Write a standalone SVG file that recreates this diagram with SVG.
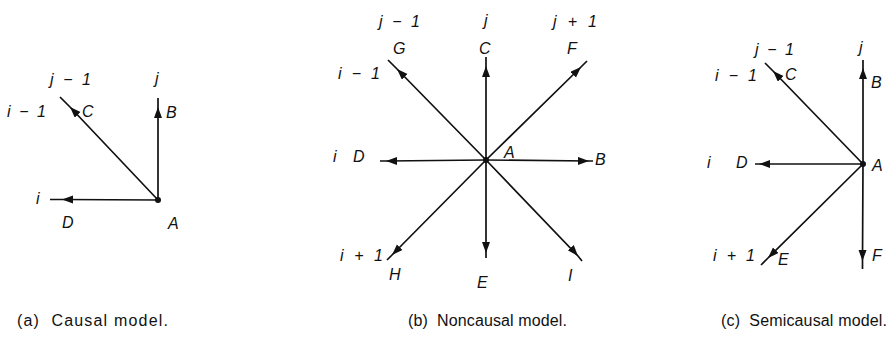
<svg xmlns="http://www.w3.org/2000/svg" width="890" height="338" viewBox="0 0 890 338">
<style>
.ln{fill:none;stroke:#111;stroke-width:1.7;marker-mid:url(#ah)}
.lb{font-family:"Liberation Sans",Arial,sans-serif;font-style:italic;font-size:16px;fill:#111}
.cap{font-family:"Liberation Sans",Arial,sans-serif;font-size:16px;fill:#111}
</style>
<defs>
<marker id="ah" markerUnits="userSpaceOnUse" markerWidth="12" markerHeight="9" refX="11" refY="4" orient="auto">
<path d="M0,0 L11,4 L0,8 Z" fill="#111"/>
</marker>
</defs>
<rect width="890" height="338" fill="#fff"/>

<g id="connectors">
<!-- (a) -->
<path class="ln" d="M158,200 L62,199.5 L50,199.5" stroke-width="2.2"/>
<path class="ln" d="M158,200 L70,107 L60,97"/>
<path class="ln" d="M158,200 L158,107 L158,98"/>
<!-- (b) -->
<path class="ln" d="M486,160 L397,69 L388,60"/>
<path class="ln" d="M486,160 L486,66 L486,57"/>
<path class="ln" d="M486,160 L581,67 L587,61"/>
<path class="ln" d="M486,160 L386,161 L380,161" stroke-width="2.2"/>
<path class="ln" d="M486,160 L589,161 L593,161" stroke-width="2.2"/>
<path class="ln" d="M486,160 L392,255 L387,260"/>
<path class="ln" d="M486,160 L486,253 L486,258"/>
<path class="ln" d="M486,160 L578,256 L582,261"/>
<!-- (c) -->
<path class="ln" d="M863,164 L863,68 L863,60"/>
<path class="ln" d="M863,164 L773,71 L765,63"/>
<path class="ln" d="M863,164 L759,164 L755,164" stroke-width="2.2"/>
<path class="ln" d="M863,164 L768,258 L761,265"/>
<path class="ln" d="M863,164 L862.5,261 L862.5,269"/>
</g>

<g id="nodeA_a"><circle cx="158" cy="200" r="3" fill="#111"/><text class="lb" x="168" y="229">A</text></g>
<g id="nodeB_a"><text class="lb" x="166" y="118">B</text><text class="lb" x="155" y="84">j</text></g>
<g id="nodeC_a"><text class="lb" x="82" y="117">C</text><text class="lb" x="50" y="85" textLength="41" lengthAdjust="spacing">j − 1</text><text class="lb" x="7" y="117" textLength="39" lengthAdjust="spacing">i − 1</text></g>
<g id="nodeD_a"><text class="lb" x="62" y="228">D</text><text class="lb" x="36" y="204">i</text></g>

<g id="nodeA_b"><circle cx="486" cy="160" r="3" fill="#111"/><text class="lb" x="504" y="158">A</text></g>
<g id="nodeB_b"><text class="lb" x="595" y="165">B</text></g>
<g id="nodeC_b"><text class="lb" x="479" y="54">C</text><text class="lb" x="484" y="26">j</text></g>
<g id="nodeD_b"><text class="lb" x="353" y="162">D</text><text class="lb" x="333" y="162">i</text></g>
<g id="nodeE_b"><text class="lb" x="477" y="288">E</text></g>
<g id="nodeF_b"><text class="lb" x="567" y="54">F</text><text class="lb" x="553" y="27" textLength="44" lengthAdjust="spacing">j + 1</text></g>
<g id="nodeG_b"><text class="lb" x="393" y="54">G</text><text class="lb" x="379" y="27" textLength="41" lengthAdjust="spacing">j − 1</text><text class="lb" x="338" y="79" textLength="42" lengthAdjust="spacing">i − 1</text></g>
<g id="nodeH_b"><text class="lb" x="389" y="280">H</text><text class="lb" x="340" y="261" textLength="43" lengthAdjust="spacing">i + 1</text></g>
<g id="nodeI_b"><text class="lb" x="568" y="281">I</text></g>

<g id="nodeA_c"><circle cx="863" cy="164" r="3" fill="#111"/><text class="lb" x="872" y="171">A</text></g>
<g id="nodeB_c"><text class="lb" x="871" y="88">B</text><text class="lb" x="859" y="53">j</text></g>
<g id="nodeC_c"><text class="lb" x="785" y="80">C</text><text class="lb" x="755" y="55" textLength="39" lengthAdjust="spacing">j − 1</text><text class="lb" x="715" y="81" textLength="42" lengthAdjust="spacing">i − 1</text></g>
<g id="nodeD_c"><text class="lb" x="736" y="168">D</text><text class="lb" x="707" y="168">i</text></g>
<g id="nodeE_c"><text class="lb" x="778" y="265">E</text><text class="lb" x="713" y="261" textLength="42" lengthAdjust="spacing">i + 1</text></g>
<g id="nodeF_c"><text class="lb" x="872" y="261">F</text></g>

<g id="captions">
<text class="cap" x="17" y="326" textLength="151" lengthAdjust="spacing">(a)&#160; Causal model.</text>
<text class="cap" x="408" y="326" textLength="159" lengthAdjust="spacing">(b)&#160; Noncausal model.</text>
<text class="cap" x="721" y="326" textLength="166" lengthAdjust="spacing">(c)&#160; Semicausal model.</text>
</g>
</svg>
